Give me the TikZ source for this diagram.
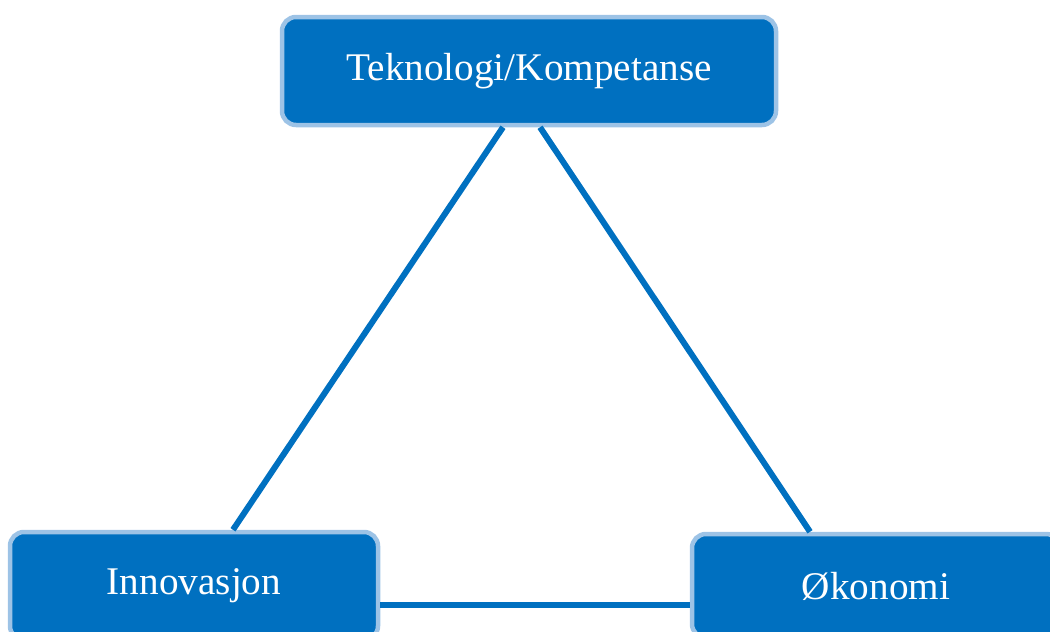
\documentclass[tikz,border=0pt]{standalone}
\usepackage{fontspec}
\setmainfont{Liberation Serif}
\usepackage{tikz}
\usetikzlibrary{positioning}
\definecolor{mblue}{RGB}{0, 112, 192}
\definecolor{lblue}{RGB}{157, 195, 230}
\tikzset{box/.style = {draw = lblue, fill = mblue, line width = 4.5, rounded corners = 14,
    text = white, font = \fontsize{39.2}{46}\selectfont, inner sep = 0}}
\tikzset{link/.style = {draw = mblue, line width = 6}}

\begin{document}
\begin{tikzpicture}[x=1pt, y=-1pt]
      \useasboundingbox (0, 0) rectangle (1050, 632);
      \clip (0, 0) rectangle (1050, 632);

      \node [box, minimum width = 494, minimum height = 108] (tek) at (529, 71) {Teknologi/Kompetanse};
      \node [box, minimum width = 368, minimum height = 108] (inno) at (194, 586) {Innovasjon};
      \node [box, minimum width = 368, minimum height = 104] (oko) at (876, 586) {Økonomi};

      \draw [link] ([xshift=-26pt]tek.south) -- ([xshift=39pt]inno.north);
      \draw [link] ([xshift=11pt]tek.south) -- ([xshift=-66pt]oko.north);
      \draw [link] ([yshift=-19pt]inno.east) -- ([yshift=-19pt]inno.east -| oko.west);
    \end{tikzpicture}
\end{document}
